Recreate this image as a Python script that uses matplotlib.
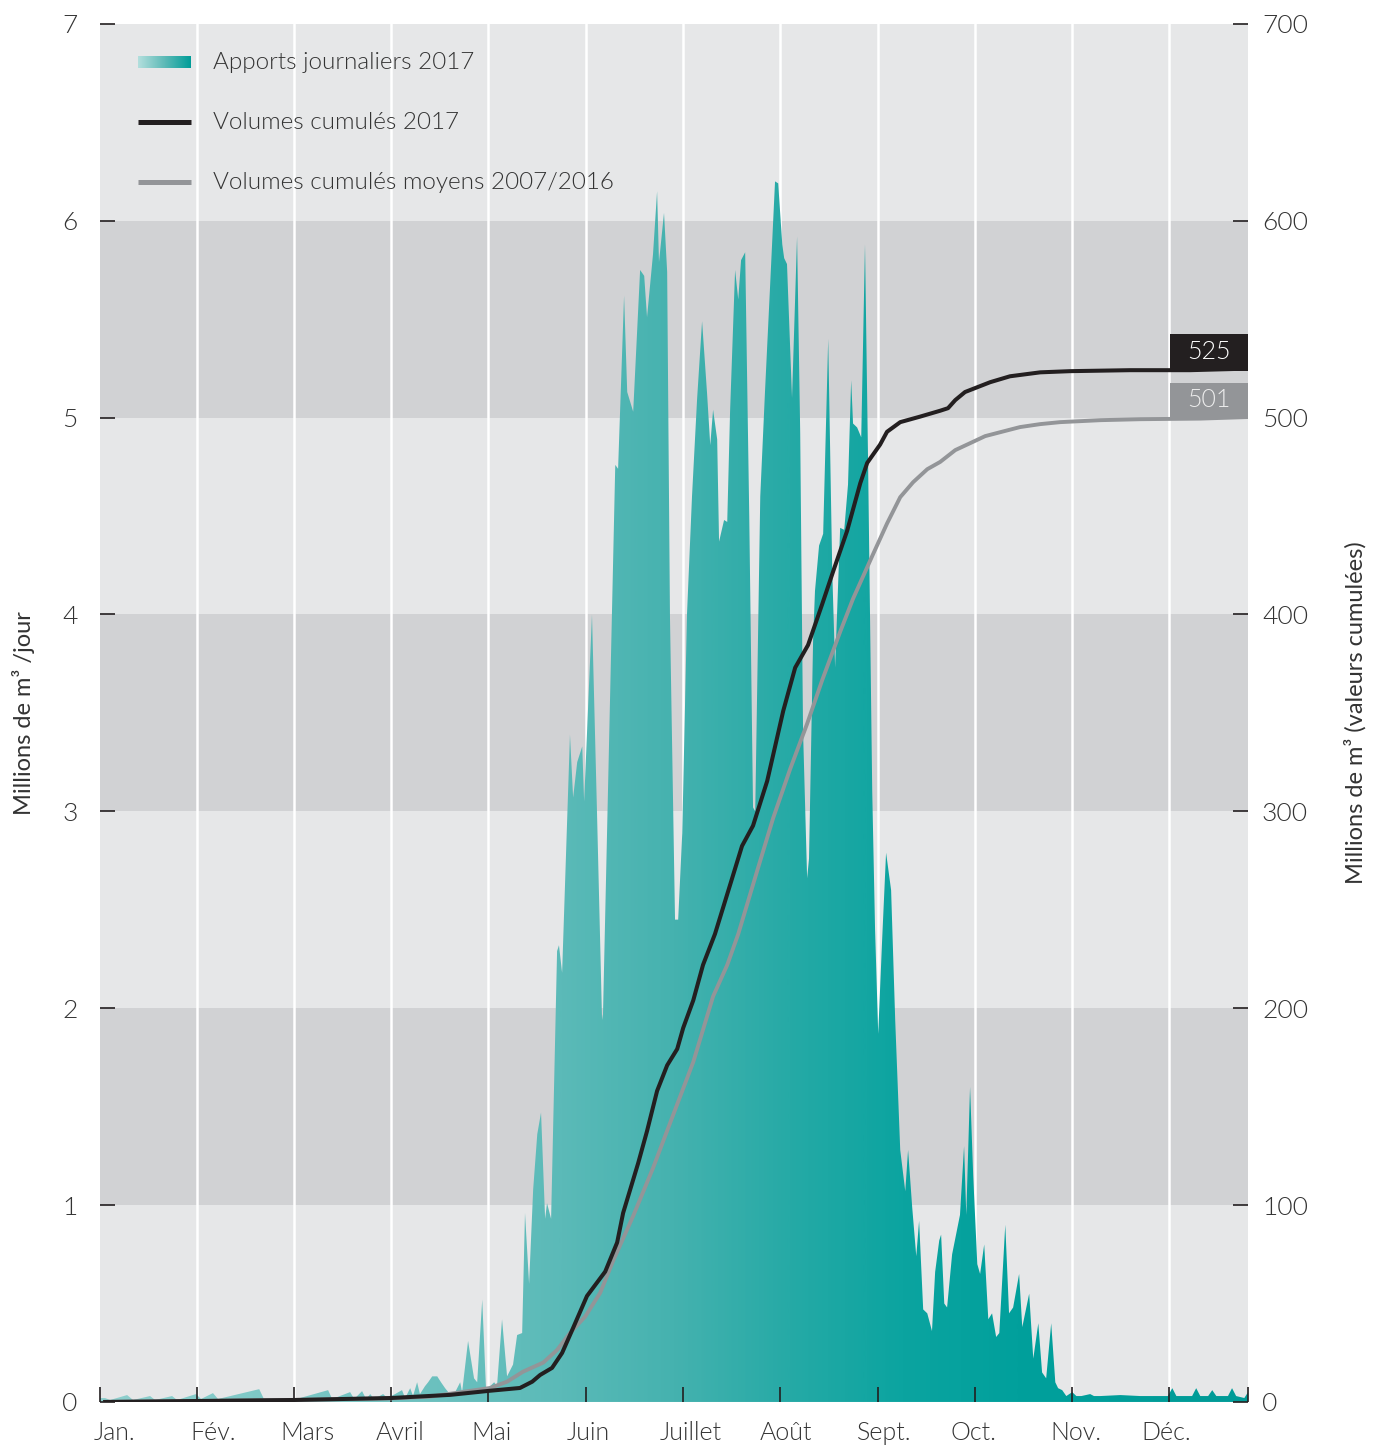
import numpy as np
import matplotlib
matplotlib.use("Agg")
import matplotlib.pyplot as plt
from matplotlib.colors import LinearSegmentedColormap
from matplotlib.patches import Rectangle

plt.rcParams["font.family"] = ["Lato", "DejaVu Sans"]
plt.rcParams["font.weight"] = 300

# month axis (day of year)
months = ["Jan.", "Fév.", "Mars", "Avril", "Mai", "Juin", "Juillet", "Août", "Sept.", "Oct.", "Nov.", "Déc."]
month_ticks = [0, 30.8, 61.7, 92.5, 123.4, 154.5, 185.3, 216.2, 247.2, 278.1, 308.9, 339.9, 365]
month_label_pos = [4.5, 35.9, 65.8, 95.4, 124.6, 155.2, 187.9, 218.1, 249.3, 277.6, 310.3, 338.9]

# daily inflows 2017 (millions m3 / day)
inflow_day = [0, 1.6, 3.2, 8.6, 10.5, 15.9, 17.5, 22.9, 24.5, 30.5, 32.1, 35.9, 37.5, 50.6, 52.1,
              63.6, 72.5, 73.8, 79.5, 80.8, 83.3, 84.6, 85.9, 87.1, 90.0, 91.3, 93.8, 96.0, 97.0,
              98.6, 99.5, 100.8, 101.7, 103.3, 104.3, 105.6, 107.2, 108.4, 109.7, 110.7, 112.9,
              114.5, 115.1, 117.0, 118.9, 119.9, 121.5, 122.7, 124.0, 125.3, 126.2, 127.8, 129.4,
              131.3, 132.6, 134.2, 135.1, 136.4, 137.7, 139.0, 140.2, 141.5, 142.1, 143.4, 145.3,
              145.9, 146.9, 149.4, 150.4, 151.7, 153.3, 153.9, 156.4, 158.0, 159.6, 159.9, 163.8,
              164.7, 166.6, 167.6, 169.5, 171.7, 173.0, 173.9, 175.8, 177.1, 177.7, 179.3, 180.3,
              181.2, 182.8, 183.8, 185.1, 186.6, 188.2, 189.8, 191.4, 193.0, 194.0, 194.9, 196.2,
              196.8, 198.4, 199.4, 200.3, 201.9, 202.9, 203.8, 205.1, 206.4, 207.6, 208.3, 209.9,
              211.4, 213.0, 214.6, 215.6, 216.9, 217.5, 218.4, 220.0, 221.6, 222.6, 223.5, 224.8,
              225.4, 226.7, 227.3, 228.6, 229.9, 231.5, 232.8, 233.7, 235.3, 236.6, 237.8, 238.8,
              239.4, 240.7, 242.0, 243.2, 244.2, 245.5, 246.4, 247.4, 248.6, 249.9, 251.5, 252.8,
              254.4, 256.0, 256.9, 258.2, 259.5, 260.4, 261.7, 263.0, 264.5, 265.5, 266.8, 267.4,
              268.4, 269.3, 270.9, 273.4, 274.7, 275.4, 276.6, 277.6, 278.9, 279.8, 281.1, 282.4,
              283.6, 284.9, 285.9, 287.8, 289.0, 290.3, 292.2, 293.2, 295.4, 296.7, 298.3, 299.5,
              300.8, 302.4, 303.7, 304.6, 305.9, 307.2, 309.1, 310.4, 312.0, 314.8, 316.0, 318.0,
              324.4, 330.7, 339.5, 340.9, 342.2, 347.2, 348.5, 349.8, 352.3, 353.6, 354.9, 358.6,
              359.9, 361.2, 363.8, 365]
inflow_val = [0.02, 0.02, 0.01, 0.035, 0.01, 0.03, 0.01, 0.03, 0.01, 0.04, 0.015, 0.045, 0.015, 0.065, 0.015,
              0.02, 0.06, 0.015, 0.05, 0.015, 0.055, 0.015, 0.04, 0.015, 0.04, 0.02, 0.04, 0.06, 0.02,
              0.07, 0.03, 0.10, 0.04, 0.08, 0.10, 0.13, 0.13, 0.10, 0.07, 0.05, 0.05,
              0.10, 0.05, 0.31, 0.12, 0.10, 0.52, 0.07, 0.08, 0.10, 0.08, 0.42, 0.13,
              0.19, 0.34, 0.35, 0.96, 0.60, 1.08, 1.36, 1.47, 0.93, 1.01, 0.93, 2.29,
              2.32, 2.18, 3.39, 3.07, 3.25, 3.33, 3.05, 4.00, 2.99, 1.94, 1.97, 4.76,
              4.74, 5.62, 5.13, 5.03, 5.75, 5.72, 5.51, 5.83, 6.15, 5.79, 6.04, 5.74,
              3.98, 2.45, 2.45, 2.89, 4.00, 4.60, 5.09, 5.49, 5.12, 4.86, 5.04, 4.89,
              4.37, 4.48, 4.47, 5.03, 5.75, 5.60, 5.80, 5.84, 4.50, 3.02, 3.00, 4.60,
              5.13, 5.66, 6.20, 6.19, 5.88, 5.81, 5.78, 5.10, 5.92, 4.92, 3.41, 2.66,
              2.76, 3.87, 4.12, 4.35, 4.41, 5.40, 4.21, 3.73, 4.44, 4.43, 4.66, 5.19,
              4.97, 4.95, 4.90, 5.88, 4.75, 3.10, 2.40, 1.87, 2.33, 2.79, 2.60, 1.94,
              1.28, 1.07, 1.28, 0.99, 0.74, 0.92, 0.47, 0.45, 0.36, 0.66, 0.82, 0.85,
              0.50, 0.48, 0.75, 0.95, 1.30, 0.95, 1.60, 1.15, 0.70, 0.65, 0.80, 0.42,
              0.45, 0.33, 0.35, 0.90, 0.45, 0.48, 0.65, 0.38, 0.55, 0.22, 0.40, 0.15,
              0.12, 0.40, 0.10, 0.07, 0.06, 0.03, 0.05, 0.03, 0.03, 0.04, 0.03, 0.03,
              0.035, 0.03, 0.03, 0.07, 0.03, 0.03, 0.07, 0.03, 0.03, 0.06, 0.03, 0.03,
              0.07, 0.03, 0.02, 0.05]

# cumulative volumes 2017 (millions m3)
cum2017_day = [1.6, 31.8, 61.7, 92.5, 111.3, 124.0, 133.5, 137.4, 139.9, 143.7, 146.9, 150.4, 154.8,
               160.6, 164.4, 166.3, 171.1, 173.9, 177.1, 180.3, 183.5, 185.4, 188.6, 191.7, 195.5,
               200.3, 204.1, 207.6, 212.1, 217.2, 221.0, 225.1, 229.6, 233.1, 237.5, 241.7, 243.9,
               248.0, 250.2, 254.4, 260.7, 267.1, 269.6, 271.9, 275.0, 278.2, 283.0, 289.3, 298.9,
               308.4, 327.5, 346.6, 365]
cum2017_val = [0, 0.5, 1.0, 2.0, 3.6, 5.7, 7.1, 10.3, 13.7, 17.3, 24.9, 37.6, 53.8,
               66.2, 81.0, 96.0, 121.4, 137.6, 158.0, 171.0, 179.3, 190.0, 204.0, 222.0, 237.7,
               262.6, 282.4, 292.7, 315.4, 351.0, 373.0, 384.5, 405.3, 422.0, 442.4, 466.7, 477.0,
               486.3, 492.8, 497.7, 500.5, 503.5, 504.8, 508.9, 513.0, 515.0, 518.0, 521.0, 523.0,
               523.6, 524.1, 524.1, 524.9]

# mean cumulative volumes 2007/2016 (millions m3)
cummean_day = [1.6, 61.7, 92.5, 104.9, 124.0, 129.4, 134.5, 140.9, 145.3, 149.4, 154.2, 159.0, 163.1,
               169.5, 175.8, 182.2, 188.6, 194.9, 199.4, 202.9, 208.9, 214.0, 219.4, 224.8, 229.6,
               235.3, 239.4, 245.5, 250.2, 254.4, 258.5, 263.0, 267.1, 271.9, 276.6, 281.4, 286.2,
               292.5, 298.9, 305.2, 311.6, 318.0, 330.7, 349.8, 365]
cummean_val = [0, 1.0, 1.8, 2.7, 7.1, 10.3, 15.4, 20.0, 26.4, 35.0, 43.3, 55.4, 71.6,
               94.5, 118.8, 145.8, 172.7, 206.0, 222.0, 237.7, 269.7, 296.6, 321.5, 344.5, 366.7,
               391.2, 408.0, 429.7, 446.2, 459.6, 467.2, 473.8, 477.5, 483.5, 487.0, 490.6, 492.6,
               495.2, 496.7, 497.7, 498.2, 498.7, 499.2, 499.5, 500.3]

end_labels = ["525", "501"]

TEXT = "#333333"
INK = "#231f20"
GREY = "#939598"
LIGHT = "#e6e7e8"
DARK = "#d1d2d4"

area_cmap = LinearSegmentedColormap.from_list(
    "apports",
    [(0.0, "#8fd0ce"), (0.3, "#6ac0be"), (0.4, "#5bbab8"), (0.5, "#45b2af"),
     (0.6, "#26aaa6"), (0.7, "#0ba4a0"), (0.8, "#01a09c"), (1.0, "#009b97")])
legend_cmap = LinearSegmentedColormap.from_list("leg", ["#b3dfdd", "#5dbab7", "#009d98"])

fig = plt.figure(figsize=(13.86, 14.48), dpi=100)
ax = fig.add_axes([0.0722, 0.0318, 0.8283, 0.9517])

for k in range(7):
    ax.axhspan(k, k + 1, color=LIGHT if k % 2 == 0 else DARK, lw=0, zorder=0.1)
for t in month_ticks[1:-1]:
    ax.axvline(t, color="white", lw=1.8, zorder=0.3)

# gradient area clipped to the inflow polygon
poly = ax.fill_between(inflow_day, 0, inflow_val, facecolor="none", lw=0)
grad = np.linspace(0, 1, 600).reshape(1, -1)
img = ax.imshow(grad, cmap=area_cmap, extent=[0, 365, 0, 7], aspect="auto",
                origin="lower", zorder=0.8, interpolation="bilinear")
img.set_clip_path(poly.get_paths()[0], transform=ax.transData)

ax.set_xlim(0, 365)
ax.set_ylim(0, 7)
ax.set_yticks(range(8))
ax.set_xticks(month_ticks)
ax.set_xticklabels([])
ax.set_xticks(month_label_pos, minor=True)
ax.set_xticklabels(months, minor=True)
ax.tick_params(axis="x", which="major", direction="in", length=11, width=1.2, color=INK)
ax.tick_params(axis="x", which="minor", length=0, pad=14, labelsize=18, labelcolor=TEXT)
ax.tick_params(axis="y", direction="in", length=11, width=1.2, color=INK, pad=16,
               labelsize=19, labelcolor=TEXT)
for s in ax.spines.values():
    s.set_visible(False)
ax.set_ylabel("Millions de m³ /jour", fontsize=17, color=TEXT, labelpad=20)

ax2 = ax.twinx()
ax2.plot(cummean_day, cummean_val, color=GREY, lw=2.8, solid_joinstyle="round", zorder=3)
ax2.plot(cum2017_day, cum2017_val, color=INK, lw=2.9, solid_joinstyle="round", zorder=4)
ax2.set_ylim(0, 700)
ax2.set_yticks(range(0, 701, 100))
ax2.tick_params(axis="y", direction="in", length=11, width=1.2, color=INK, pad=10,
                labelsize=19, labelcolor=TEXT)
for s in ax2.spines.values():
    s.set_visible(False)
ax2.set_ylabel("Millions de m³ (valeurs cumulées)", fontsize=17, color=TEXT, labelpad=26)

# end-value boxes
box_x0 = 340.2
ax2.add_patch(Rectangle((box_x0, cum2017_val[-1] - 1.3), 365 - box_x0, 18.8,
                        facecolor=INK, lw=0, zorder=5))
ax2.text((box_x0 + 365) / 2, cum2017_val[-1] + 8.3, end_labels[0], color="white",
         fontsize=18, ha="center", va="center", zorder=6)
ax2.add_patch(Rectangle((box_x0, cummean_val[-1]), 365 - box_x0, 17.2,
                        facecolor=GREY, lw=0, zorder=5))
ax2.text((box_x0 + 365) / 2, cummean_val[-1] + 8.6, end_labels[1], color="#ececec",
         fontsize=18, ha="center", va="center", zorder=6)
ax2.set_xlim(0, 365)

# legend
ax.imshow(grad, cmap=legend_cmap, extent=[0.033, 0.079, 0.968, 0.976],
          transform=ax.transAxes, aspect="auto", zorder=3)
ax.plot([0.033, 0.079], [0.9285, 0.9285], transform=ax.transAxes, color=INK, lw=3.6,
        solid_capstyle="butt", zorder=3)
ax.plot([0.033, 0.079], [0.885, 0.885], transform=ax.transAxes, color=GREY, lw=3.6,
        solid_capstyle="butt", zorder=3)
legend_text = ["Apports journaliers 2017", "Volumes cumulés 2017", "Volumes cumulés moyens 2007/2016"]
for txt, yy in zip(legend_text, [0.972, 0.9285, 0.885]):
    ax.text(0.098, yy, txt, transform=ax.transAxes, fontsize=17.5, color=TEXT,
            va="center", ha="left", zorder=3)

ax.set_xlim(0, 365)
ax.set_ylim(0, 7)
fig.savefig("out.png", dpi=100)
